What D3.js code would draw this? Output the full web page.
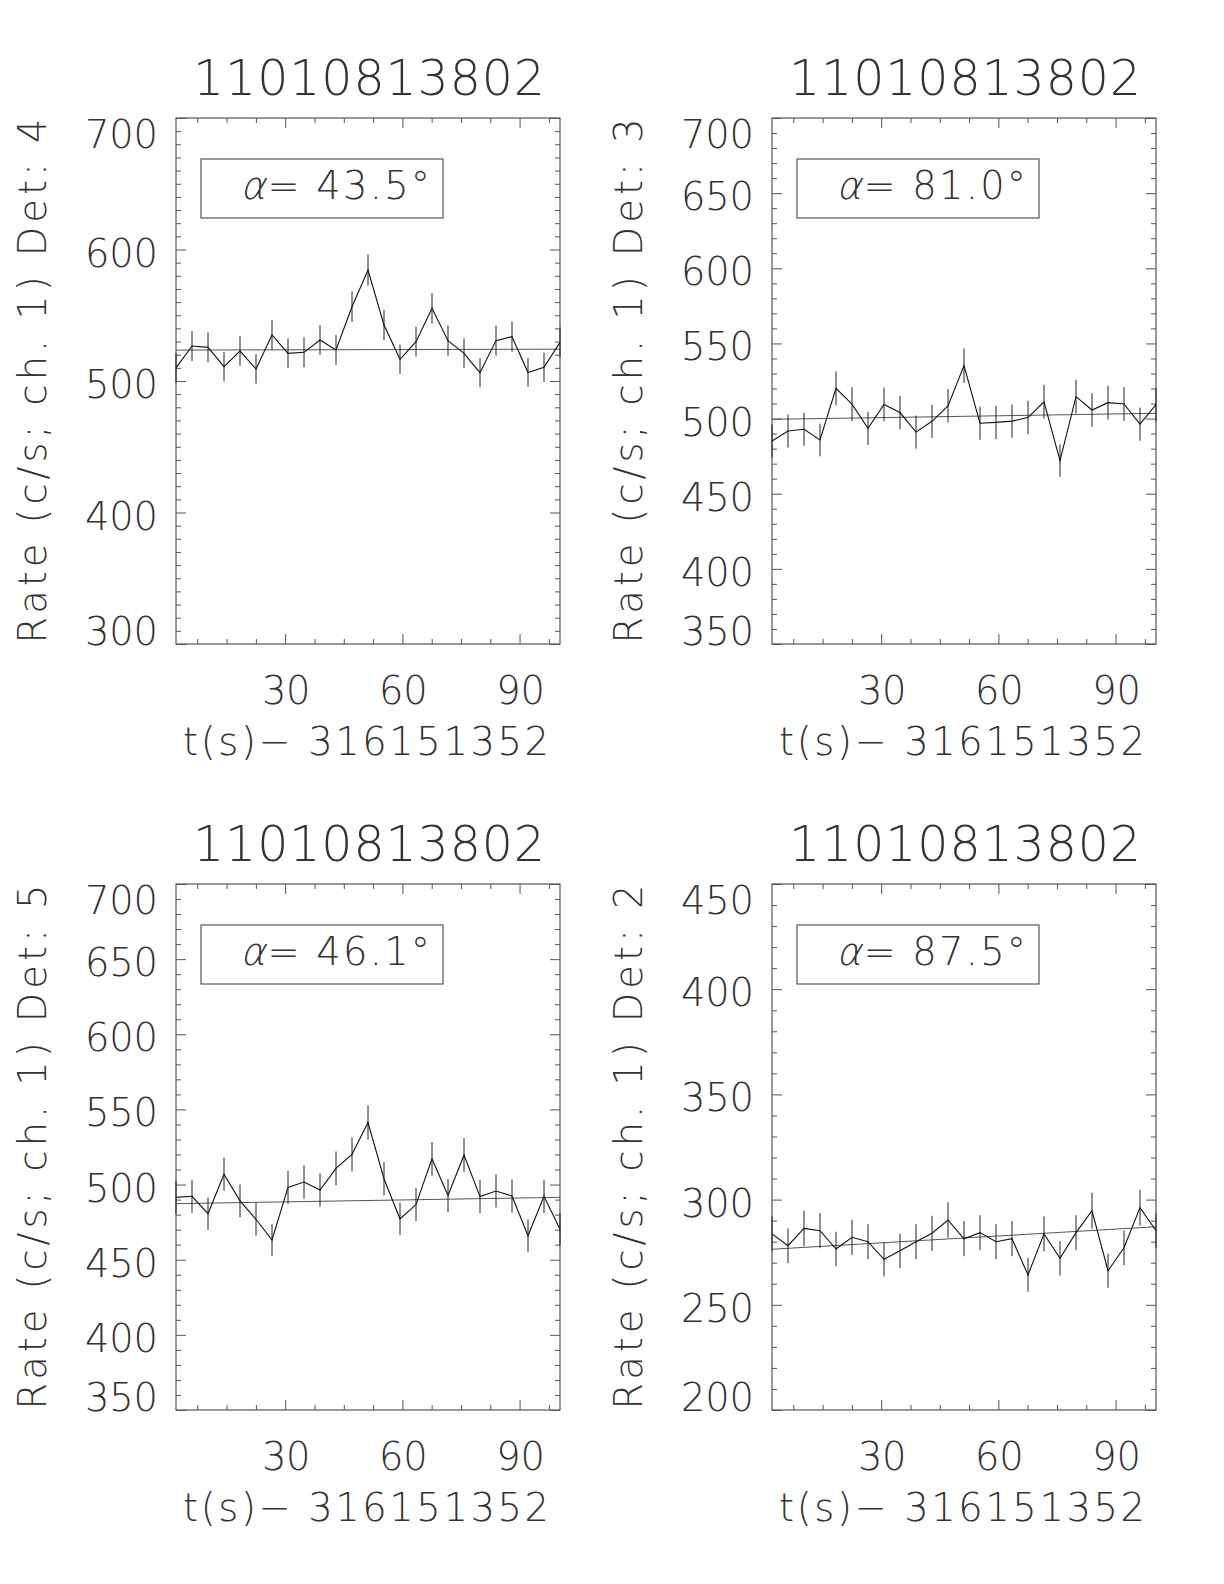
<!DOCTYPE html>
<html>
<head>
<meta charset="utf-8">
<script src="https://cdn.jsdelivr.net/npm/d3@7"></script>
<style>
  html, body { margin: 0; padding: 0; background: #fff; }
  svg { display: block; }
  text { font-family: "DejaVu Sans ExtraLight", "DejaVu Sans Light", Roboto, "DejaVu Sans", sans-serif; font-weight: 200; fill: #333; }
</style>
</head>
<body>
<svg id="chart" width="1224" height="1584"></svg>
<script>
// ---------------- data ----------------
const obsId = "11010813802";
const timeOffset = "316151352";
const detectors = [4, 3, 5, 2];
const alphaAngles = ["43.5", "81.0", "46.1", "87.5"];

const times = [2.048, 6.144, 10.240, 14.336, 18.432, 22.528, 26.624, 30.720, 34.816, 38.912,
  43.008, 47.104, 51.200, 55.296, 59.392, 63.488, 67.584, 71.680, 75.776, 79.872,
  83.968, 88.064, 92.160, 96.256, 100.352];

const rateDet4 = [510.0, 526.6, 525.6, 510.9, 522.8, 509.1, 535.0, 521.0, 521.8, 531.2,
  523.6, 556.5, 584.4, 542.6, 516.5, 529.9, 555.3, 530.7, 521.0, 506.3,
  530.7, 533.7, 506.5, 510.4, 529.4];
const errDet4 = [11.2, 11.3, 11.3, 11.2, 11.3, 11.1, 11.4, 11.3, 11.3, 11.4,
  11.3, 11.7, 11.9, 11.5, 11.2, 11.4, 11.6, 11.4, 11.3, 11.1,
  11.4, 11.4, 11.1, 11.2, 11.4];

const rateDet3 = [485.1, 491.7, 492.9, 485.8, 520.1, 509.6, 493.5, 509.4, 504.0, 491.0,
  498.2, 508.4, 535.2, 496.9, 497.5, 498.3, 500.7, 511.2, 472.0, 514.6,
  505.7, 510.6, 509.7, 496.3, 509.3];
const errDet3 = [10.9, 11.0, 11.0, 10.9, 11.3, 11.2, 11.0, 11.2, 11.1, 11.0,
  11.0, 11.1, 11.4, 11.0, 11.0, 11.0, 11.1, 11.2, 10.7, 11.2,
  11.1, 11.2, 11.2, 11.0, 11.2];

const rateDet5 = [491.5, 492.2, 480.6, 506.9, 489.2, 476.9, 463.1, 498.1, 501.7, 496.4,
  510.8, 520.1, 541.3, 503.9, 477.1, 486.7, 517.1, 492.7, 519.7, 492.0,
  495.7, 492.4, 466.0, 492.2, 470.3];
const errDet5 = [11.0, 11.0, 10.8, 11.1, 10.9, 10.8, 10.6, 11.0, 11.1, 11.0,
  11.2, 11.3, 11.5, 11.1, 10.8, 10.9, 11.2, 11.0, 11.3, 11.0,
  11.0, 11.0, 10.7, 11.0, 10.7];

const rateDet2 = [283.7, 278.1, 286.3, 285.2, 276.5, 282.1, 280.0, 271.6, 275.7, 280.0,
  284.0, 290.3, 281.4, 284.3, 280.0, 281.4, 264.2, 283.7, 272.1, 284.3,
  294.7, 266.2, 277.1, 296.2, 285.2];
const errDet2 = [8.3, 8.2, 8.4, 8.3, 8.2, 8.3, 8.3, 8.1, 8.2, 8.3,
  8.3, 8.4, 8.3, 8.3, 8.3, 8.3, 8.0, 8.3, 8.2, 8.3,
  8.5, 8.1, 8.2, 8.5, 8.3];

// linear fit end values (at first and last time)
const fitDet4 = [523.5, 524.2];
const fitDet3 = [499.5, 503.5];
const fitDet5 = [487.3, 491.5];
const fitDet2 = [276.4, 287.1];

const yDomainDet4 = [300, 700];
const yDomainDet3 = [350, 700];
const yDomainDet5 = [350, 700];
const yDomainDet2 = [200, 450];

const yTicksDet4 = [300, 400, 500, 600, 700];
const yTicksDet3 = [350, 400, 450, 500, 550, 600, 650, 700];
const yTicksDet5 = [350, 400, 450, 500, 550, 600, 650, 700];
const yTicksDet2 = [200, 250, 300, 350, 400, 450];
const yMinorStep = 10;

const xTicks = [30, 60, 90];
const xMinorStep = 7.5;

const panels = [
  {det: detectors[0], alpha: alphaAngles[0], rate: rateDet4, err: errDet4, fit: fitDet4, dom: yDomainDet4, ticks: yTicksDet4, col: 0, row: 0},
  {det: detectors[1], alpha: alphaAngles[1], rate: rateDet3, err: errDet3, fit: fitDet3, dom: yDomainDet3, ticks: yTicksDet3, col: 1, row: 0},
  {det: detectors[2], alpha: alphaAngles[2], rate: rateDet5, err: errDet5, fit: fitDet5, dom: yDomainDet5, ticks: yTicksDet5, col: 0, row: 1},
  {det: detectors[3], alpha: alphaAngles[3], rate: rateDet2, err: errDet2, fit: fitDet2, dom: yDomainDet2, ticks: yTicksDet2, col: 1, row: 1}
];

// ---------------- layout ----------------
const colX = [176, 772];
const rowY = [118, 884];
const W = 384, H = 526;
const frameColor = "#555";
const lineColor = "#111";
const digitW = 24.3;

const svg = d3.select("#chart");

panels.forEach(p => {
  const L = colX[p.col], T = rowY[p.row];
  const g = svg.append("g").attr("transform", `translate(${L},${T})`);

  const x = d3.scaleLinear().domain([times[0], times[times.length - 1]]).range([0, W]);
  const y = d3.scaleLinear().domain(p.dom).range([H, 0]);

  const xMinor = d3.range(0, 105, xMinorStep).filter(v => v > x.domain()[0] && v < x.domain()[1] && !xTicks.includes(v));
  const yMinor = d3.range(p.dom[0], p.dom[1] + 0.001, yMinorStep).filter(v => !p.ticks.includes(v));

  const styleAxis = sel => {
    sel.select(".domain").remove();
    sel.selectAll("line").attr("stroke", frameColor).attr("stroke-width", 1);
    sel.selectAll("text").remove();
  };

  const majLen = 10, minLen = 5;
  g.append("g").attr("transform", `translate(0,${H})`).call(d3.axisBottom(x).tickValues(xTicks).tickSize(-majLen)).call(styleAxis);
  g.append("g").attr("transform", `translate(0,${H})`).call(d3.axisBottom(x).tickValues(xMinor).tickSize(-minLen)).call(styleAxis);
  g.append("g").call(d3.axisTop(x).tickValues(xTicks).tickSize(-majLen)).call(styleAxis);
  g.append("g").call(d3.axisTop(x).tickValues(xMinor).tickSize(-minLen)).call(styleAxis);
  g.append("g").call(d3.axisLeft(y).tickValues(p.ticks).tickSize(-majLen)).call(styleAxis);
  g.append("g").call(d3.axisLeft(y).tickValues(yMinor).tickSize(-minLen)).call(styleAxis);
  g.append("g").attr("transform", `translate(${W},0)`).call(d3.axisRight(y).tickValues(p.ticks).tickSize(-majLen)).call(styleAxis);
  g.append("g").attr("transform", `translate(${W},0)`).call(d3.axisRight(y).tickValues(yMinor).tickSize(-minLen)).call(styleAxis);

  g.append("rect").attr("x", 0).attr("y", 0).attr("width", W).attr("height", H)
    .attr("fill", "none").attr("stroke", frameColor).attr("stroke-width", 1.2);

  g.append("line")
    .attr("x1", x(times[0])).attr("x2", x(times[times.length - 1]))
    .attr("y1", y(p.fit[0])).attr("y2", y(p.fit[1]))
    .attr("stroke", "#555").attr("stroke-width", 1);

  g.selectAll(".eb").data(times).enter().append("line")
    .attr("x1", d => x(d)).attr("x2", d => x(d))
    .attr("y1", (d, i) => y(p.rate[i] - p.err[i]))
    .attr("y2", (d, i) => y(p.rate[i] + p.err[i]))
    .attr("stroke", "#222").attr("stroke-width", 1);

  const line = d3.line().x((d, i) => x(times[i])).y(d => y(d));
  g.append("path").datum(p.rate).attr("d", line)
    .attr("fill", "none").attr("stroke", lineColor).attr("stroke-width", 1.1);

  const fs = 38.4;
  p.ticks.forEach(v => {
    let by = y(v) + 17;
    if (v === p.dom[1]) by = y(v) + 30;
    if (v === p.dom[0]) by = y(v) + 1;
    const s = String(v);
    g.append("text").attr("x", -18).attr("y", by)
      .attr("text-anchor", "end").attr("font-size", fs)
      .attr("textLength", s.length * digitW).attr("lengthAdjust", "spacing").text(s);
  });
  xTicks.forEach(v => {
    const s = String(v);
    g.append("text").attr("x", x(v) + 1).attr("y", H + 60)
      .attr("text-anchor", "middle").attr("font-size", fs)
      .attr("textLength", s.length * digitW).attr("lengthAdjust", "spacing").text(s);
  });
  g.append("text").attr("x", 7).attr("y", H + 111)
    .attr("font-size", fs).attr("textLength", 366).attr("lengthAdjust", "spacing")
    .text("t(s)\u2212 " + timeOffset);
  g.append("text").attr("transform", `translate(${-130},${H / 2}) rotate(-90)`)
    .attr("text-anchor", "middle").attr("font-size", fs)
    .attr("textLength", 525).attr("lengthAdjust", "spacing")
    .text(`Rate (c/s; ch. 1) Det: ${p.det}`);
  g.append("text").attr("x", 17).attr("y", -23)
    .attr("font-size", 49).attr("textLength", 352).attr("lengthAdjust", "spacing")
    .text(obsId);

  g.append("rect").attr("x", 25).attr("y", 41).attr("width", 242).attr("height", 59)
    .attr("fill", "none").attr("stroke", frameColor).attr("stroke-width", 1.2);
  const at = g.append("text").attr("x", 64).attr("y", 81).attr("font-size", fs)
    .attr("textLength", 190).attr("lengthAdjust", "spacing");
  at.append("tspan").attr("font-style", "italic").text("α");
  at.append("tspan").text("= " + p.alpha + "°");
});
</script>
</body>
</html>
